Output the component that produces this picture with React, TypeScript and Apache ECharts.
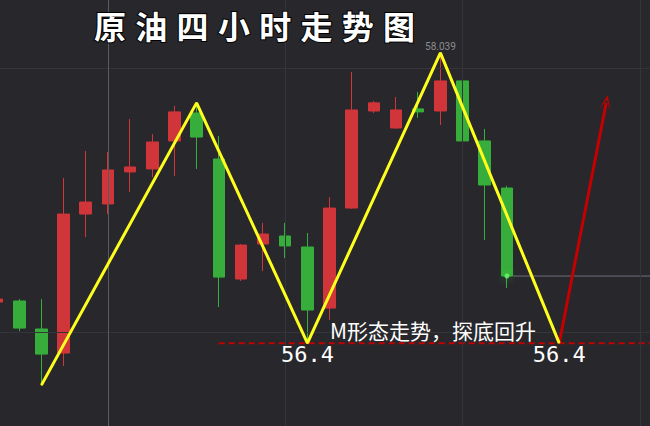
import React, { useEffect, useRef } from "react";
import * as echarts from "echarts";

// 4-hour bars (only the first 24 carry prices, the rest is empty space on the right)
const categories = [
  "K01", "K02", "K03", "K04", "K05", "K06", "K07", "K08", "K09", "K10",
  "K11", "K12", "K13", "K14", "K15", "K16", "K17", "K18", "K19", "K20",
  "K21", "K22", "K23", "K24", "K25", "K26", "K27", "K28", "K29", "K30",
];

// [open, close, low, high]
const candles: number[][] = [
  [56.632, 56.649, 56.621, 56.66],
  [56.638, 56.485, 56.468, 56.649],
  [56.48, 56.338, 56.163, 56.649],
  [56.344, 57.129, 56.271, 57.333],
  [57.129, 57.197, 56.999, 57.485],
  [57.186, 57.378, 57.129, 57.48],
  [57.367, 57.395, 57.254, 57.666],
  [57.384, 57.536, 57.338, 57.581],
  [57.542, 57.706, 57.344, 57.74],
  [57.7, 57.564, 57.384, 57.757],
  [57.44, 56.773, 56.604, 57.57],
  [56.762, 56.954, 56.751, 56.96],
  [56.96, 57.016, 56.807, 57.079],
  [57.005, 56.949, 56.881, 57.079],
  [56.943, 56.587, 56.4, 57.022],
  [56.598, 57.163, 56.531, 57.225],
  [57.163, 57.717, 57.158, 57.932],
  [57.711, 57.757, 57.7, 57.768],
  [57.615, 57.717, 57.61, 57.79],
  [57.723, 57.706, 57.672, 57.819],
  [57.711, 57.881, 57.632, 58.039],
  [57.881, 57.542, 57.44, 57.926],
  [57.542, 57.293, 56.983, 57.61],
  [57.276, 56.779, 56.711, 57.288],
];

// M pattern turning points: [bar position, price]
const mPatternX = [2, 9, 14, 20, 25.36];
const mPatternY = [56.163, 57.757, 56.4, 58.039, 56.4];
const mPatternLabels = ["", "", "56.4", "58.039", "56.4"];

// rebound arrow from the second bottom
const arrowX = [25.36, 27.48];
const arrowY = [56.4, 57.757];

const supportPrice = 56.4;
const supportFromX = 10;
const lastClose = 56.779;
const lastCloseFromX = 23.28;

// faint grid
const gridPrices = [57.954, 56.457];
const gridBars = [13, 21, 29];
const crossBar = 5;

const titleText = "原油四小时走势图";
const noteText = "M形态走势，探底回升";

const X_MIN = -0.5;
const X_MAX = 29.5;
const Y_MIN = 55.932;
const Y_MAX = 58.338;

// the chart canvas starts 14px left of the page so that the first bar is cut
const SHIFT = 14;

export default function App() {
  const ref = useRef<HTMLDivElement>(null);

  useEffect(() => {
    if (!ref.current) return;
    const chart = echarts.init(ref.current, undefined, { renderer: "svg" });

    const red = "#d03539";
    const green = "#37ae3b";

    const mData = mPatternX.map((x, i) => {
      const lab = mPatternLabels[i];
      const item: any = { value: [x, mPatternY[i]] };
      if (lab === "58.039") {
        item.label = {
          show: true,
          formatter: lab,
          position: "top",
          distance: 1,
          color: "#8c8c8c",
          fontSize: 10,
          fontFamily: "Roboto",
        };
      } else if (lab) {
        item.label = {
          show: true,
          formatter: lab,
          position: "bottom",
          distance: 0,
          color: "#ffffff",
          fontSize: 22,
          fontFamily: "DejaVu Sans Mono",
        };
      }
      return item;
    });

    const titleGraphics = titleText.split("").map((c, k) => ({
      type: "text",
      x: SHIFT + 110 + k * 41.3,
      y: 25,
      z: 100,
      style: {
        text: c,
        font: 'bold 32px "Noto Sans CJK SC"',
        fill: "#ffffff",
        stroke: "#000000",
        lineWidth: 2,
        align: "center",
        verticalAlign: "middle",
      },
    }));

    chart.setOption({
      animation: false,
      backgroundColor: "#27272c",
      grid: { left: 0, right: 0, top: 0, bottom: 0, containLabel: false },
      xAxis: [
        {
          type: "category",
          data: categories,
          boundaryGap: true,
          axisLine: { show: false },
          axisTick: { show: false },
          axisLabel: { show: false },
          splitLine: { show: false },
        },
        {
          type: "value",
          min: X_MIN,
          max: X_MAX,
          show: false,
          splitLine: { show: false },
        },
      ],
      yAxis: {
        type: "value",
        min: Y_MIN,
        max: Y_MAX,
        show: false,
        splitLine: { show: false },
      },
      series: [
        {
          name: "grid",
          type: "line",
          xAxisIndex: 1,
          data: [],
          z: 1,
          silent: true,
          markLine: {
            silent: true,
            symbol: ["none", "none"],
            label: { show: false },
            lineStyle: { color: "#34353b", width: 1, type: "solid" },
            data: [
              ...gridPrices.map((p) => ({ yAxis: p })),
              ...gridBars.map((b) => ({ xAxis: b })),
              { xAxis: crossBar, lineStyle: { color: "#5a5b61", width: 1, type: "solid" } },
            ],
          },
        },
        {
          name: "原油",
          type: "candlestick",
          xAxisIndex: 0,
          data: candles,
          barWidth: 12,
          z: 2,
          itemStyle: {
            color: red,
            color0: green,
            borderColor: red,
            borderColor0: green,
            borderWidth: 1,
          },
        },
        {
          name: "last",
          type: "line",
          xAxisIndex: 1,
          data: [
            [lastCloseFromX, lastClose],
            [X_MAX, lastClose],
          ],
          symbol: "none",
          lineStyle: { color: "#6e717a", width: 1 },
          z: 3,
        },
        {
          name: "glow",
          type: "scatter",
          xAxisIndex: 1,
          data: [[23, lastClose]],
          symbolSize: 5,
          itemStyle: { color: "#6cff6c", shadowBlur: 12, shadowColor: "#3cff3c" },
          z: 3,
        },
        {
          name: "support",
          type: "line",
          xAxisIndex: 1,
          data: [
            [supportFromX, supportPrice],
            [X_MAX, supportPrice],
          ],
          symbol: "none",
          lineStyle: { color: "#c40000", width: 2, type: [6, 4] },
          z: 4,
        },
        {
          name: "M",
          type: "line",
          xAxisIndex: 1,
          data: mData,
          symbol: "circle",
          symbolSize: 1,
          showSymbol: true,
          itemStyle: { color: "#ffff1e" },
          lineStyle: { color: "#ffff1e", width: 3 },
          z: 5,
        },
        {
          name: "arrow",
          type: "line",
          xAxisIndex: 1,
          data: [],
          z: 6,
          markLine: {
            silent: true,
            symbol: ["none", "path://M0,10 L5,0 L10,10 L5,3 Z"],
            symbolSize: [12, 16],
            label: { show: false },
            lineStyle: { color: "#c40000", width: 3, type: "solid" },
            data: [
              [
                { coord: [arrowX[0], arrowY[0]] },
                { coord: [arrowX[1], arrowY[1]] },
              ],
            ],
          },
        },
      ],
      graphic: [
        ...titleGraphics,
        {
          type: "text",
          x: SHIFT + 330,
          y: 330,
          z: 100,
          style: {
            text: noteText,
            font: '21px "Noto Sans CJK SC"',
            fill: "#ffffff",
            align: "left",
            verticalAlign: "middle",
          },
        },
      ],
    });

    return () => chart.dispose();
  }, []);

  return (
    <div
      ref={ref}
      style={{ position: "fixed", left: -SHIFT, top: 0, width: 650 + SHIFT + 1, height: 426 }}
    />
  );
}
